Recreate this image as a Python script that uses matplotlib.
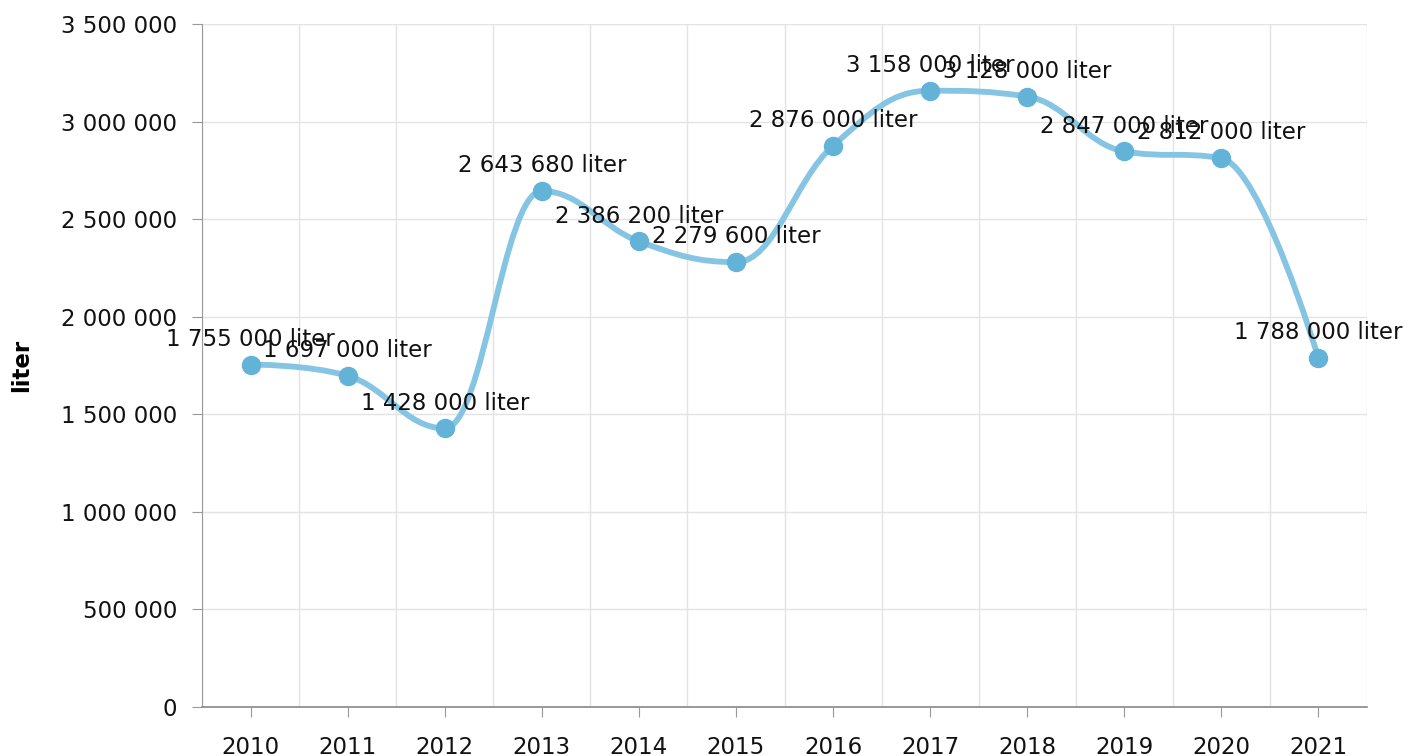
import numpy as np
import matplotlib
matplotlib.use("Agg")
import matplotlib.pyplot as plt
from matplotlib.ticker import FuncFormatter, MultipleLocator
from matplotlib.path import Path
from matplotlib.patches import PathPatch

plt.rcParams['font.family'] = ['DejaVu Sans']

years = ['2010', '2011', '2012', '2013', '2014', '2015',
         '2016', '2017', '2018', '2019', '2020', '2021']
values = [1755000, 1697000, 1428000, 2643680, 2386200, 2279600,
          2876000, 3158000, 3128000, 2847000, 2812000, 1788000]


def fmt(v):
    return f"{int(round(v)):,}".replace(",", " ")


def spline_path(xs, ys, smoothing=1.5):
    # highcharts-like spline control points
    n = len(xs)
    denom = smoothing + 1
    left = [None] * n
    right = [None] * n
    for i in range(1, n - 1):
        px, py = xs[i], ys[i]
        lx, ly = xs[i - 1], ys[i - 1]
        nx, ny = xs[i + 1], ys[i + 1]
        lcx = (smoothing * px + lx) / denom
        lcy = (smoothing * py + ly) / denom
        rcx = (smoothing * px + nx) / denom
        rcy = (smoothing * py + ny) / denom
        if rcx != lcx:
            corr = (rcy - lcy) * (rcx - px) / (rcx - lcx) + py - rcy
            lcy += corr
            rcy += corr
        if lcy > ly and lcy > py:
            lcy = max(ly, py)
            rcy = 2 * py - lcy
        elif lcy < ly and lcy < py:
            lcy = min(ly, py)
            rcy = 2 * py - lcy
        if rcy > ny and rcy > py:
            rcy = max(ny, py)
            lcy = 2 * py - rcy
        elif rcy < ny and rcy < py:
            rcy = min(ny, py)
            lcy = 2 * py - rcy
        left[i] = (lcx, lcy)
        right[i] = (rcx, rcy)
    verts = [(xs[0], ys[0])]
    codes = [Path.MOVETO]
    for i in range(1, n):
        c1 = right[i - 1] if right[i - 1] is not None else (xs[i - 1], ys[i - 1])
        c2 = left[i] if left[i] is not None else (xs[i], ys[i])
        verts += [c1, c2, (xs[i], ys[i])]
        codes += [Path.CURVE4] * 3
    return Path(verts, codes)


fig = plt.figure(figsize=(14.1, 7.56), dpi=100)
ax = fig.add_axes([0.1433, 0.0648, 0.8262, 0.9035])

x = np.arange(len(years))
path = spline_path(list(x), values)
ax.add_patch(PathPatch(path, facecolor='none', edgecolor='#85c5e3',
                       lw=4.2, capstyle='round', joinstyle='round', zorder=3))
ax.plot(x, values, linestyle='none', marker='o', markersize=13,
        color='#63b3d9', zorder=4)

for xi, v in zip(x, values):
    ax.annotate(f"{fmt(v)} liter", (xi, v), xytext=(0, 13.5),
                textcoords='offset points', ha='center', va='baseline',
                fontsize=16.5, color='#111111', zorder=5,
                annotation_clip=False)

ax.set_xlim(-0.5, len(years) - 0.5)
ax.set_ylim(0, 3500000)
ax.yaxis.set_major_locator(MultipleLocator(500000))
ax.yaxis.set_major_formatter(FuncFormatter(lambda v, p: fmt(v)))
ax.set_xticks(x)
ax.set_xticklabels(years)
ax.set_xticks(np.arange(-0.5, len(years), 1), minor=True)

ax.grid(True, axis='y', which='major', color='#e3e3e3', lw=1)
ax.grid(True, axis='x', which='minor', color='#e3e3e3', lw=1)
ax.set_axisbelow(True)

for s in ['top', 'right']:
    ax.spines[s].set_visible(False)
ax.spines['left'].set_color('#999999')
ax.spines['bottom'].set_color('#888888')
ax.spines['bottom'].set_linewidth(1.2)

ax.tick_params(axis='y', which='major', length=7, color='#999999',
               labelsize=16.5, pad=11, labelcolor='#111111')
ax.tick_params(axis='x', which='major', length=7, color='#999999',
               labelsize=16.5, pad=14, labelcolor='#111111')
ax.tick_params(axis='x', which='minor', length=0)

ax.set_ylabel('liter', fontsize=16.5, fontweight='bold', labelpad=20)

fig.savefig('out.png', dpi=100)
